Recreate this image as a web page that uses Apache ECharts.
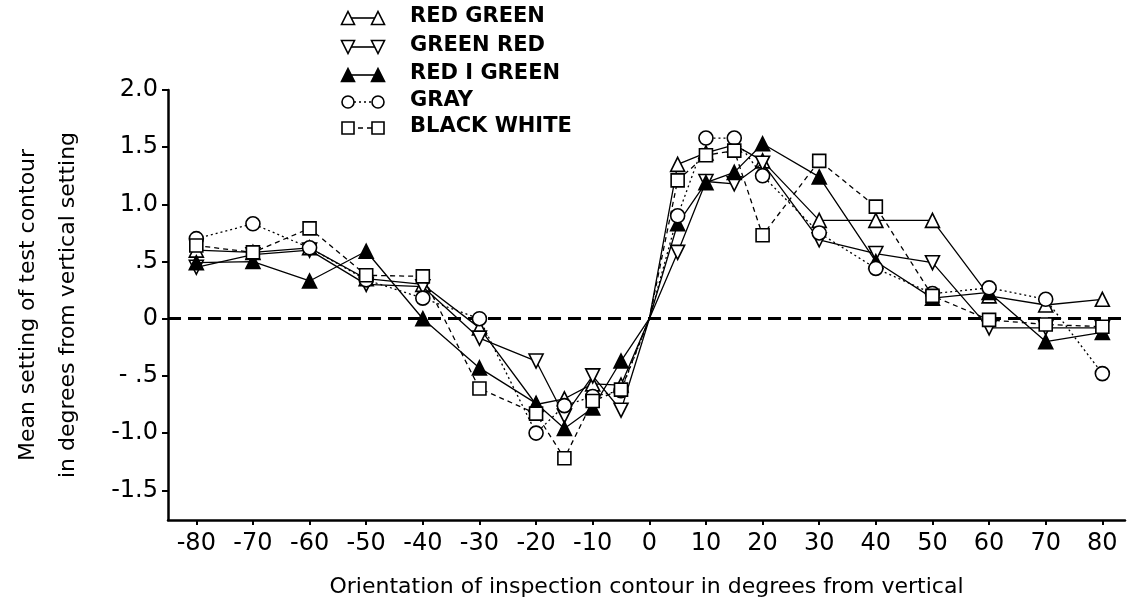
<!DOCTYPE html>
<html>
<head>
<meta charset="utf-8">
<script src="https://cdn.jsdelivr.net/npm/echarts@6/dist/echarts.min.js"></script>
<style>
  html, body { margin: 0; padding: 0; background: #fff; }
  #chart { width: 1129px; height: 614px; }
</style>
</head>
<body>
<div id="chart"></div>
<script>
// orientation of inspection contour (deg)
var degrees = [-80, -70, -60, -50, -40, -30, -20, -15, -10, -5, 0, 5, 10, 15, 20, 30, 40, 50, 60, 70, 80];
// mean setting of test contour (deg)
var redGreen   = [0.60, 0.58, 0.62, 0.35, 0.30, -0.08, -0.75, -0.70, -0.57, -0.58, 0, 1.35, 1.45, 1.52, 1.38, 0.86, 0.86, 0.86, 0.20, 0.12, 0.17];
var greenRed   = [0.45, 0.56, 0.60, 0.30, 0.28, -0.17, -0.37, -0.85, -0.50, -0.80, 0, 0.58, 1.20, 1.18, 1.36, 0.69, 0.57, 0.49, -0.08, -0.08, -0.08];
var redIGreen  = [0.49, 0.50, 0.33, 0.59, 0.00, -0.43, -0.74, -0.96, -0.78, -0.37, 0, 0.83, 1.19, 1.28, 1.53, 1.24, 0.50, 0.18, 0.23, -0.20, -0.12];
var gray       = [0.70, 0.83, 0.62, 0.34, 0.18, 0.00, -1.00, -0.76, -0.68, -0.63, 0, 0.90, 1.58, 1.58, 1.25, 0.75, 0.44, 0.22, 0.27, 0.17, -0.48];
var blackWhite = [0.64, 0.58, 0.79, 0.38, 0.37, -0.61, -0.83, -1.22, -0.72, -0.62, 0, 1.21, 1.43, 1.47, 0.73, 1.38, 0.98, 0.20, -0.01, -0.05, -0.07];

var xTicks = [-80, -70, -60, -50, -40, -30, -20, -10, 0, 10, 20, 30, 40, 50, 60, 70, 80];
var yTicks = [-1.5, -1.0, -0.5, 0, 0.5, 1.0, 1.5, 2.0];
var yTickText = { '-1.5': '-1.5', '-1': '-1.0', '-0.5': '- .5', '0': '0', '0.5': '.5', '1': '1.0', '1.5': '1.5', '2': '2.0' };

var names = ['RED GREEN', 'GREEN RED', 'RED I GREEN', 'GRAY', 'BLACK WHITE'];
var values = [redGreen, greenRed, redIGreen, gray, blackWhite];

// the origin is drawn without a marker in the original
function pairs(ys) {
  return degrees.map(function (d, i) {
    return d === 0 ? { value: [d, ys[i]], symbol: 'none' } : [d, ys[i]];
  });
}

var font = 'DejaVu Sans';
var styles = [
  { symbol: 'triangle', rotate: 0,   fill: '#fff', dash: 'solid' },
  { symbol: 'triangle', rotate: 180, fill: '#fff', dash: 'solid' },
  { symbol: 'triangle', rotate: 0,   fill: '#000', dash: 'solid' },
  { symbol: 'circle',   rotate: 0,   fill: '#fff', dash: [2, 3] },
  { symbol: 'rect',     rotate: 0,   fill: '#fff', dash: [5, 4] }
];

var series = names.map(function (n, i) {
  var s = styles[i];
  return {
    name: n,
    type: 'line',
    data: pairs(values[i]),
    symbol: s.symbol,
    symbolRotate: s.rotate,
    symbolSize: s.symbol === 'rect' ? 13 : 14,
    lineStyle: { color: '#000', width: 1.3, type: s.dash },
    itemStyle: { color: s.fill, borderColor: '#000', borderWidth: 1.6 },
    z: 3 + i
  };
});

// zero reference line
series[0].markLine = {
  silent: true,
  symbol: 'none',
  label: { show: false },
  lineStyle: { color: '#000', width: 3, type: [13, 7] },
  data: [{ yAxis: 0 }]
};

// hand-drawn style legend: symbol, line, symbol, text
var legendRows = [18, 47, 75, 102, 128];
var graphics = [];
function marker(i, cx, cy) {
  var h = 6.5;
  if (i === 3) {
    return { type: 'circle', shape: { cx: cx, cy: cy, r: 6 }, style: { fill: '#fff', stroke: '#000', lineWidth: 1.6 } };
  }
  if (i === 4) {
    return { type: 'rect', shape: { x: cx - 6, y: cy - 6, width: 12, height: 12 }, style: { fill: '#fff', stroke: '#000', lineWidth: 1.6 } };
  }
  var pts = i === 1
    ? [[cx - h, cy - h], [cx + h, cy - h], [cx, cy + h]]
    : [[cx, cy - h], [cx + h, cy + h], [cx - h, cy + h]];
  return { type: 'polygon', shape: { points: pts }, style: { fill: styles[i].fill, stroke: '#000', lineWidth: 1.6 } };
}
legendRows.forEach(function (y, i) {
  var dash = styles[i].dash === 'solid' ? null : styles[i].dash;
  graphics.push({ type: 'line', shape: { x1: 349, y1: y, x2: 377, y2: y }, style: { stroke: '#000', lineWidth: 1.6, lineDash: dash } });
  graphics.push(marker(i, 348, y));
  graphics.push(marker(i, 378, y));
  graphics.push({ type: 'text', left: 410, top: y - 12, style: { text: names[i], fill: '#000', font: 'bold 21px "DejaVu Sans"' } });
});

var chart = echarts.init(document.getElementById('chart'));
chart.setOption({
  backgroundColor: '#fff',
  animation: false,
  graphic: graphics,
  grid: { left: 168, right: 4, top: 90, bottom: 94, outerBoundsMode: 'none' },
  xAxis: {
    type: 'value',
    min: -85,
    max: 84,
    name: 'Orientation of inspection contour in degrees from vertical',
    nameLocation: 'middle',
    nameGap: 56,
    nameTextStyle: { color: '#000', fontSize: 22, fontFamily: font },
    axisLine: { onZero: false, lineStyle: { color: '#000', width: 2.5 } },
    axisTick: { customValues: xTicks, length: 5, lineStyle: { color: '#000', width: 2 } },
    axisLabel: { customValues: xTicks, color: '#000', fontSize: 24, fontFamily: font, margin: 12 },
    splitLine: { show: false }
  },
  yAxis: {
    type: 'value',
    min: -1.76,
    max: 2.0,
    name: 'Mean setting of test contour\nin degrees from vertical setting',
    nameLocation: 'middle',
    nameGap: 80,
    nameTextStyle: { color: '#000', fontSize: 22, fontFamily: font, lineHeight: 40 },
    axisLine: { onZero: false, lineStyle: { color: '#000', width: 2.5 } },
    axisTick: { customValues: yTicks, length: 6, lineStyle: { color: '#000', width: 2 } },
    axisLabel: {
      customValues: yTicks,
      color: '#000', fontSize: 24, fontFamily: font, margin: 10,
      formatter: function (v) { return yTickText[String(v)]; }
    },
    splitLine: { show: false }
  },
  series: series
});
</script>
</body>
</html>
